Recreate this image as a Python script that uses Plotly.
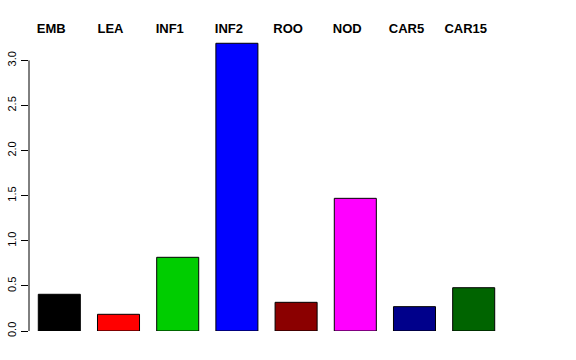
import plotly.graph_objects as go

categories = ["EMB", "LEA", "INF1", "INF2", "ROO", "NOD", "CAR5", "CAR15"]
values = [0.407, 0.185, 0.817, 3.19, 0.318, 1.471, 0.27, 0.48]
bar_colors = ["#000000", "#FF0000", "#00CD00", "#0000FF", "#8B0000", "#FF00FF", "#00008B", "#006400"]
y_ticks = [0.0, 0.5, 1.0, 1.5, 2.0, 2.5, 3.0]

fig = go.Figure(
    go.Bar(
        x=categories,
        y=values,
        marker=dict(color=bar_colors, line=dict(color="#000000", width=1)),
        width=0.71,
    )
)

fig.update_layout(
    width=576,
    height=360,
    margin=dict(l=29, r=73, t=33, b=29),
    paper_bgcolor="white",
    plot_bgcolor="white",
    showlegend=False,
    font=dict(family="Liberation Sans, Arial, sans-serif", color="black"),
)

fig.update_xaxes(
    type="category",
    side="top",
    range=[-0.512, 7.495],
    automargin=False,
    showline=False,
    showgrid=False,
    zeroline=False,
    ticks="",
    tickfont=dict(size=13, weight="bold", color="black"),
    ticklabelshift=-8,
    ticklabelstandoff=-4,
)

fig.update_yaxes(
    range=[0, 3.304],
    automargin=False,
    tickvals=y_ticks,
    ticktext=[f"{v:.1f}" for v in y_ticks],
    ticks="outside",
    ticklen=7,
    tickcolor="black",
    tickwidth=1,
    tickangle=-90,
    tickfont=dict(size=11, color="black"),
    ticklabelstandoff=1,
    showline=False,
    showgrid=False,
    zeroline=False,
)

# y axis line spans only the tick range, as in the original
fig.add_shape(
    type="line", xref="paper", yref="y",
    x0=0, x1=0, y0=y_ticks[0], y1=y_ticks[-1],
    line=dict(color="black", width=1),
)

fig.write_html("out.html")
